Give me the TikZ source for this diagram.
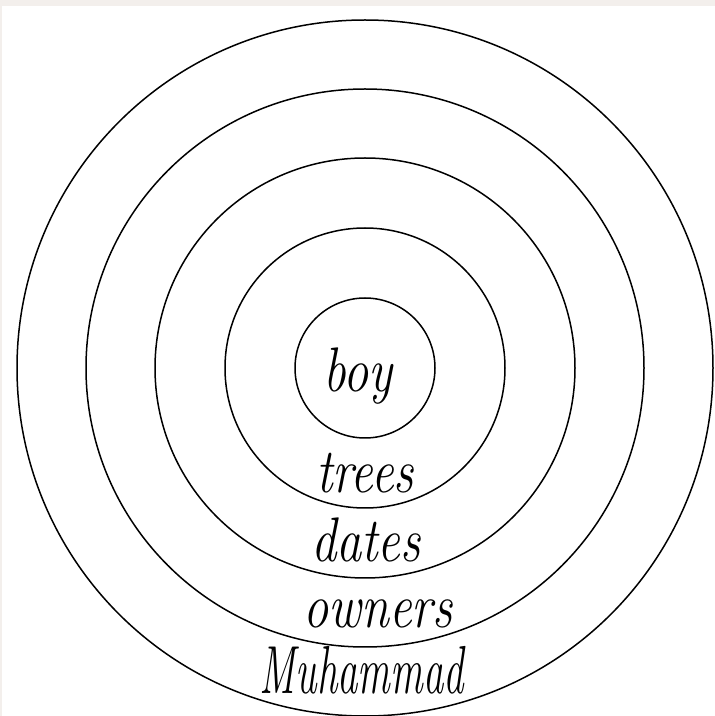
\documentclass[tikz,border=0pt]{standalone}
\usetikzlibrary{positioning}
\definecolor{paper}{HTML}{F3EFEC}
\tikzset{
  ring/.style={line width=1.5pt, black},
  word/.style={font=\fontsize{63}{70}\selectfont\itshape, inner sep=0pt, anchor=base, xscale=0.8, transform shape},
}
\begin{document}
\begin{tikzpicture}[x=1pt,y=1pt]
    % page
    \useasboundingbox (0,0) rectangle (715,716);
    \clip (0,0) rectangle (715,716);
    \fill[paper] (0,0) rectangle (715,716);
    \fill[white] (2,0) rectangle (715,710);

    % rings
    \coordinate (c) at (365,348);
    \draw[ring] (c) circle (70);
    \draw[ring] (c) circle (140);
    \draw[ring] (c) circle (210);
    \draw[ring] (c) circle (279);
    \draw[ring] (c) circle (348);

    % words, inner to outer
    \node[word] (boy) at (358,324) {boy};
    \node[word] (trees) at (365,223) {trees};
    \node[word] (dates) at (366,154) {dates};
    \node[word] (owners) at (378,88) {owners};
    \node[word, font=\fontsize{68}{76}\selectfont\itshape, xscale=0.75] (muhammad) at (362,22) {Muhammad};
\end{tikzpicture}
\end{document}
